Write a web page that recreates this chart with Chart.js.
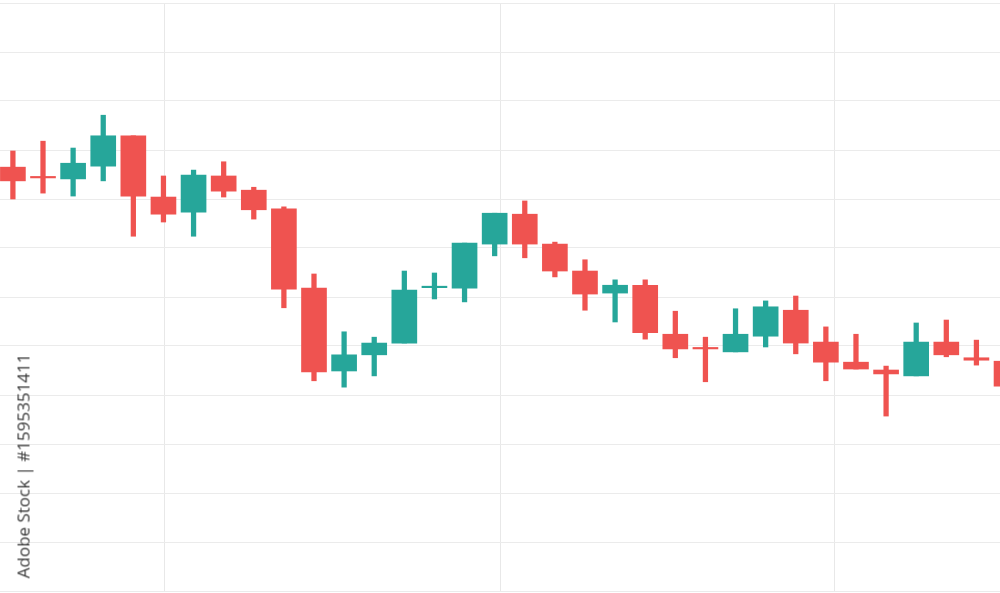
<!DOCTYPE html>
<html><head><meta charset="utf-8">
<script src="https://cdn.jsdelivr.net/npm/chart.js@4.4.1/dist/chart.umd.min.js"></script>
<style>
html,body{margin:0;padding:0;background:#fff;overflow:hidden}
#wrap{position:relative;width:1000px;height:593px}
#credit{position:absolute;left:23px;top:466px;transform:translate(-50%,-50%) rotate(-90deg);font-family:"Open Sans",sans-serif;font-size:17px;color:#3a3a3a;white-space:nowrap}
</style></head><body>
<div id="wrap"><canvas id="c" width="1000" height="593"></canvas><div id="credit">Adobe Stock | #1595351411</div></div>
<script>
// OHLC series (index = candle number)
const opens  = [86.5,84.3,84.1,86.7,92.9,80.4,77.3,84.7,81.8,78.0,61.8,44.9,48.2,50.6,61.9,61.8,70.8,76.9,70.8,65.3,60.8,62.4,52.4,49.4,48.8,52.0,57.3,50.8,46.7,45.1,43.9,50.8,47.6,46.9];
const highs  = [89.8,91.8,90.4,97.1,92.9,84.7,85.9,87.6,82.4,78.4,64.7,52.9,51.8,65.3,64.9,71.0,77.1,79.6,71.2,67.6,63.5,63.5,57.1,51.8,57.6,59.2,60.2,53.9,52.4,45.9,54.7,55.3,51.2,46.9];
const lows   = [80.0,81.2,80.6,83.7,72.4,75.3,72.4,80.4,75.9,57.8,42.9,41.6,43.9,50.6,59.6,59.0,68.4,68.0,64.1,57.3,54.9,51.4,47.6,42.7,48.8,49.8,48.4,42.9,45.3,35.7,43.9,47.8,46.1,41.0];
const closes = [83.7,84.3,87.3,92.9,80.6,76.9,84.9,81.6,77.8,61.6,44.7,48.2,50.6,61.4,62.1,71.0,77.1,70.8,65.3,60.6,62.4,52.7,49.4,49.4,52.4,58.0,50.6,46.7,45.3,44.3,50.8,48.2,47.1,41.8];
const xGridTicks = [5.05, 16.18, 27.30];

const UP = '#26A69A', DOWN = '#EF5350';
const colors = opens.map((o,i) => closes[i] > o ? UP : DOWN);
const wicks = highs.map((h,i) => ({x:i, y:[lows[i], h]}));
const bodies = opens.map((o,i) => ({x:i, y:[o, closes[i]]}));

new Chart(document.getElementById('c'), {
  type: 'bar',
  data: {
    datasets: [
      {data: bodies, backgroundColor: colors, borderWidth: 0, barThickness: 25, grouped: false, minBarLength: 1.5},
      {data: wicks, backgroundColor: colors, borderWidth: 0, barThickness: 4.6, grouped: false}
    ]
  },
  options: {
    responsive: false,
    animation: false,
    layout: {padding: {top: 3, bottom: 2, left: 0, right: 0}},
    plugins: {legend: {display: false}, tooltip: {enabled: false}},
    scales: {
      x: {
        type: 'linear',
        offset: false,
        min: -12.9/30.11,
        max: -12.9/30.11 + 1000/30.11,
        afterBuildTicks: s => { s.ticks = xGridTicks.map(v => ({value: v})); },
        ticks: {display: false},
        grid: {color: '#e8e8e8', drawTicks: false, offset: false},
        border: {display: false}
      },
      y: {
        min: 0, max: 120,
        ticks: {display: false, stepSize: 10},
        grid: {color: '#ebebeb', drawTicks: false},
        border: {display: false}
      }
    }
  }
});
</script>
</body></html>
